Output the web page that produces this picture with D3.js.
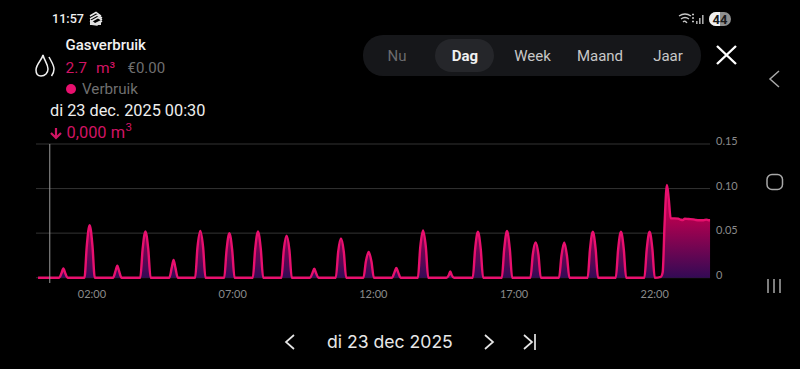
<!DOCTYPE html>
<html><head><meta charset="utf-8">
<script src="https://cdn.jsdelivr.net/npm/d3@7"></script>
<style>html,body{margin:0;padding:0;background:#000;}svg{display:block;}</style>
</head><body><svg id="c" width="800" height="369"></svg>
<script>
const sampleMinutes = [5,50,55,59,63,68,
104,109,115,121,126,
165,170,174,178,183,
223,228,234,240,245,
285,290,294,298,303,
340,345,351,357,362,
402,407,413,419,424,
463,468,474,480,485,
524,529,535,541,546,
585,590,594,598,603,
640,645,651,657,662,
699,704,710,716,721,
760,765,769,773,778,
815,820,826,832,837,
876,881,884,887,892,
932,937,943,949,954,
994,999,1005,1011,1016,
1055,1060,1066,1072,1077,
1116,1121,1127,1133,1138,
1177,1182,1188,1194,1199,
1237,1242,1248,1254,1259,
1298,1303,1309,1315,1320,
1333,1337,1341,1346,1350,1354,1362,1370,1376,1380,1384,1392,1402,1408,1416,1424,1430,1435,1438];
const sampleValues = [0,0,0.005,0.0105,0.005,0,
0,0.036,0.059,0.036,0,
0,0.007,0.0135,0.007,0,
0,0.032,0.052,0.032,0,
0,0.011,0.02,0.011,0,
0,0.034,0.0525,0.034,0,
0,0.031,0.05,0.031,0,
0,0.032,0.052,0.032,0,
0,0.031,0.047,0.031,0,
0,0.005,0.01,0.005,0,
0,0.029,0.044,0.029,0,
0,0.018,0.029,0.018,0,
0,0.006,0.011,0.006,0,
0,0.034,0.053,0.034,0,
0,0.003,0.007,0.003,0,
0,0.032,0.0515,0.032,0,
0,0.032,0.0525,0.032,0,
0,0.026,0.0395,0.026,0,
0,0.024,0.0395,0.024,0,
0,0.032,0.0515,0.032,0,
0,0.032,0.0515,0.032,0,
0,0.032,0.0515,0.032,0,
0.001,0.006,0.06,0.104,0.088,0.0666,0.0666,0.0662,0.065,0.0648,0.0662,0.0658,0.0655,0.0648,0.0645,0.0645,0.0652,0.0645,0.0645];
const hourTicks = [2,7,12,17,22];
const hourLabels = ["02:00","07:00","12:00","17:00","22:00"];
const yTicks = [0,0.05,0.10,0.15];
const yLabels = ["0","0.05","0.10","0.15"];
const rangeTabs = ["Nu","Dag","Week","Maand","Jaar"];
const tabX = [397,465,532.5,600,668];
const cursorMinute = 30;

const svg = d3.select("#c");
const x = d3.scaleLinear().domain([0,1440]).range([35.7,711]);
const y = d3.scaleLinear().domain([0,0.15]).range([277.7,144]);
const data = sampleMinutes.map((m,i)=>({m,v:sampleValues[i]}));
const defs = svg.append("defs");
const g = defs.append("linearGradient").attr("id","fill").attr("gradientUnits","userSpaceOnUse")
  .attr("x1",0).attr("x2",0).attr("y1",y(0.066)).attr("y2",y(0));
g.append("stop").attr("offset",0).attr("stop-color","#b0004f");
g.append("stop").attr("offset",1).attr("stop-color","#330a55");

// grid
svg.append("g").selectAll("line").data(yTicks).join("line")
  .attr("x1",36).attr("x2",710).attr("y1",d=>y(d)).attr("y2",d=>y(d))
  .attr("stroke",d=>d===0?"#2a2a2a":"#333").attr("stroke-width",1);
const axisFont = "Lato";
svg.append("g").selectAll("text").data(yTicks).join("text")
  .attr("x",716).attr("y",(d)=>y(d)+1)
  .attr("font-family",axisFont).attr("font-size",11).attr("fill","#8a8a8a")
  .text((d,i)=>yLabels[i]);
svg.append("g").selectAll("text").data(hourTicks).join("text")
  .attr("x",d=>x(d*60)).attr("y",298).attr("text-anchor","middle")
  .attr("font-family",axisFont).attr("font-size",11).attr("fill","#8a8a8a")
  .text((d,i)=>hourLabels[i]);
// area + line
const curve = d3.curveMonotoneX;
svg.append("path").datum(data).attr("fill","url(#fill)")
  .attr("d",d3.area().x(d=>x(d.m)).y0(y(0)).y1(d=>y(d.v)).curve(curve));
svg.append("path").datum(data).attr("fill","none").attr("stroke","#e8106e").attr("stroke-width",2.4)
  .attr("stroke-linejoin","round")
  .attr("d",d3.line().x(d=>x(d.m)).y(d=>y(d.v)).curve(curve));
// cursor
svg.append("line").attr("x1",x(cursorMinute)).attr("x2",x(cursorMinute)).attr("y1",144).attr("y2",283)
  .attr("stroke","#9a9a9a").attr("stroke-width",1);

function txt(s,xp,yp,size,fill,weight,fam,anchor){
  return svg.append("text").attr("x",xp).attr("y",yp).attr("font-size",size).attr("fill",fill)
   .attr("font-weight",weight||400).attr("font-family",fam||"Roboto").attr("text-anchor",anchor||"start").text(s);
}
// status bar
txt("11:57",52,23,12.6,"#f0f0f0",500);
const sb = svg.append("g").attr("fill","none").attr("stroke","#e8e8e8").attr("stroke-width",1.5);
sb.append("path").attr("d","M90 16l6-3.5 5 3.5M90 19l7-4 5 3M90 22l8-4.5 4 2.5M90 24l7 1 5-4");
svg.append("path").attr("d","M90 19v6h11v-5l-6 3z").attr("fill","#e0e0e0");
const wf = svg.append("g").attr("fill","none").attr("stroke","#c8c8c8").attr("stroke-width",1.3);
wf.append("path").attr("d","M679 16q6-4 12 0M681 19q4-3 8 0M683 22q2-2 4 1");
svg.append("path").attr("d","M692 14.5h2M692 18h2M692 21.5h2").attr("stroke","#c8c8c8").attr("stroke-width",1.3);
svg.append("g").selectAll("rect").data([[696,21,1.6,3],[699,18,1.6,6],[702,15,1.6,9]]).join("rect")
  .attr("x",d=>d[0]).attr("y",d=>d[1]).attr("width",d=>d[2]).attr("height",d=>d[3]).attr("fill","#a8a8a8");
svg.append("rect").attr("x",709).attr("y",12).attr("width",22).attr("height",14).attr("rx",7).attr("fill","#8f8f8f");
svg.append("path").attr("d","M716 12a7 7 0 0 0 0 14h4v-14z").attr("fill","#f0f0f0");
txt("44",720,23.6,13,"#1a1a1a",700,"Roboto","middle");
// header
txt("Gasverbruik",65.5,50,15,"#f2f2f2",500);
txt("2.7",65.5,73,15.5,"#d01463",400);
txt("m³",96,73,15.5,"#d01463",400);
txt("€0.00",127.5,73,15,"#6f6f6f",400);
svg.append("circle").attr("cx",71).attr("cy",89).attr("r",5).attr("fill","#e8106e");
txt("Verbruik",82,94,15.2,"#6f6f6f",400);
txt("di 23 dec. 2025 00:30",50,116,16.3,"#eeeeee",400);
const unitText = txt("0,000 m",66.5,138,16.4,"#d01463",400);
unitText.append("tspan").attr("dx",0.5).attr("dy",-7).attr("font-size",11.5).text("3");
svg.append("path").attr("d","M56 128v10M51 133l5 5 5-5").attr("fill","none").attr("stroke","#d01463").attr("stroke-width",2.2);
// flame
const fl = svg.append("g").attr("fill","none").attr("stroke","#f0f0f0").attr("stroke-width",1.5);
fl.append("path").attr("d","M43 55c-1 5-7 9-7 15 0 4 2 6 5 6 4 0 7-3 7-7 0-5-4-9-5-14z");
fl.append("path").attr("d","M49 57c2 4 5 8 5 12 0 3-1 5-2.500 7");
// tab bar
svg.append("rect").attr("x",363).attr("y",35).attr("width",338).attr("height",41).attr("rx",20).attr("fill","#16171a");
svg.append("rect").attr("x",435).attr("y",39).attr("width",59).attr("height",33).attr("rx",16.5).attr("fill","#25262a");
svg.append("g").selectAll("text").data(rangeTabs).join("text")
 .attr("x",(d,i)=>tabX[i]).attr("y",61).attr("text-anchor","middle").attr("font-family","Roboto")
 .attr("font-size",15).attr("font-weight",(d,i)=>i===1?700:400)
 .attr("fill",(d,i)=>i===0?"#6b6b6e":i===1?"#f0f0f0":"#c8c8c8").text(d=>d);
// close
svg.append("path").attr("d","M717 46L736 64M736 46L717 64").attr("stroke","#fff").attr("stroke-width",2.4).attr("fill","none");
// android nav
const nav = svg.append("g").attr("fill","none").attr("stroke","#a8a8a8").attr("stroke-width",1.5);
nav.append("path").attr("d","M779 71l-9 8 9 8");
nav.append("rect").attr("x",767).attr("y",174.5).attr("width",15.5).attr("height",15).attr("rx",5);
nav.append("path").attr("d","M768 279v14M774 279v14M780 279v14");
// date nav
const dn = svg.append("g").attr("fill","none").attr("stroke","#e6e6e6").attr("stroke-width",1.7);
dn.append("path").attr("d","M294 335l-8 7 8 7");
dn.append("path").attr("d","M485 335l8 7-8 7");
dn.append("path").attr("d","M524 335l8 7-8 7M535 334v16");
txt("di 23 dec 2025",327,348,17.6,"#e8e8e8",400,"Inter");
</script></body></html>
